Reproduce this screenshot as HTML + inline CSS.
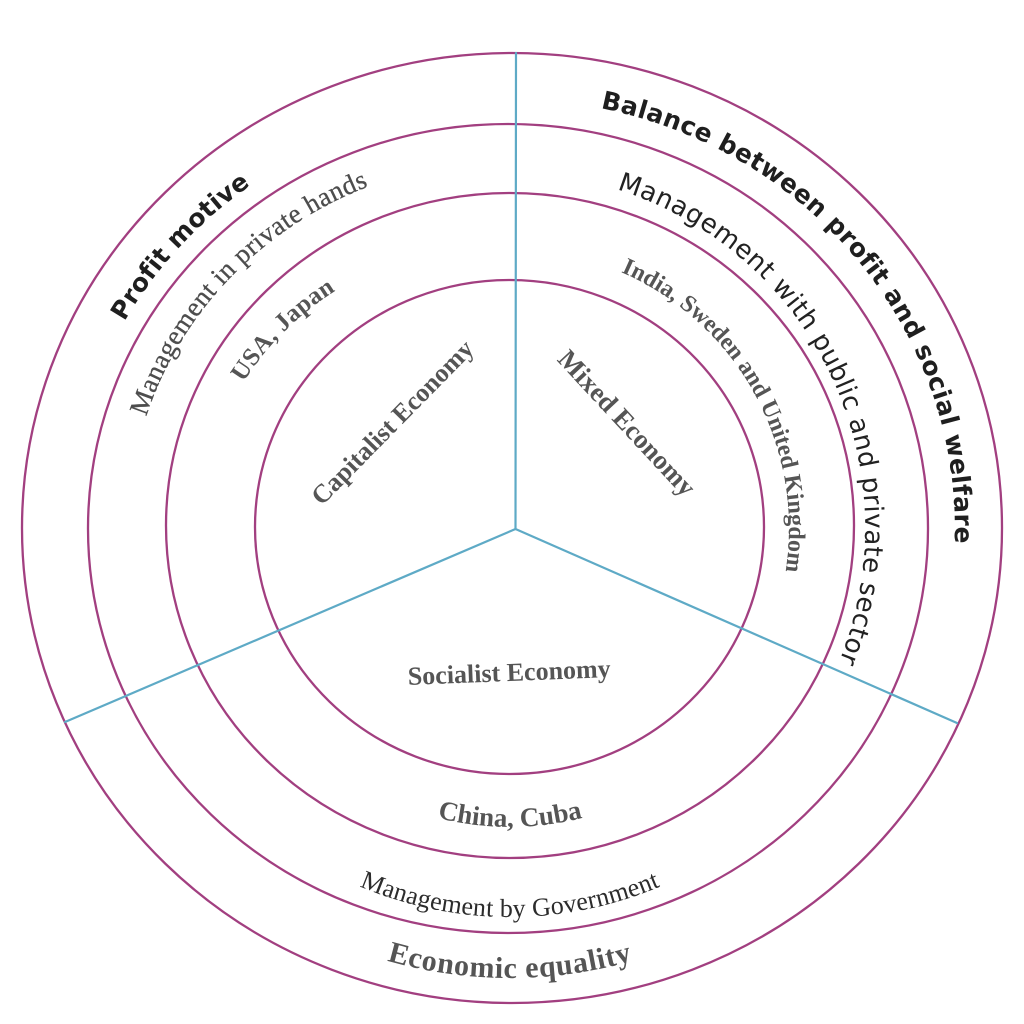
<!DOCTYPE html>
<html>
<head>
<meta charset="utf-8">
<style>
  html, body { margin: 0; padding: 0; background: #ffffff; }
  svg { display: block; }
</style>
</head>
<body>
<svg width="1024" height="1024" viewBox="0 0 1024 1024" xmlns="http://www.w3.org/2000/svg">
  <defs>
    <path id="pProfit" d="M195.4,824.5 A441,423 0 0 1 766.1,183.6" fill="none"/>
    <path id="pBalance" d="M270.9,166.2 A445,429 0 0 1 810.6,844.3" fill="none"/>
    <path id="pMgmtPub" d="M387.4,194.8 A355,355 0 0 1 688.6,834.8" fill="none"/>
    <path id="pIndia" d="M397.4,272.7 A279,279 0 0 1 665.2,759.8" fill="none"/>
    <path id="pMgmtPriv" d="M230.2,778.5 A382,368 0 0 1 740.4,234.5" fill="none"/>
    <path id="pUSA" d="M287.3,727 A309,287 0 0 1 692.1,296.1" fill="none"/>
    <path id="pChina" d="M216,533 A294,294 0 0 0 804,533" fill="none"/>
    <path id="pMgmtGov" d="M126,533 A384,384 0 0 0 894,533" fill="none"/>
    <path id="pEquality" d="M65,533 A445,445 0 0 0 955,533" fill="none"/>
  </defs>

  <!-- rings -->
  <g fill="none" stroke="#a23f80" stroke-width="2.3">
    <ellipse cx="512" cy="528" rx="490" ry="475"/>
    <ellipse cx="508" cy="528.5" rx="420" ry="404.5"/>
    <ellipse cx="510" cy="525.5" rx="344" ry="332.5"/>
    <ellipse cx="509.5" cy="527" rx="254.5" ry="247"/>
  </g>

  <!-- divider lines -->
  <g stroke="#5eaac6" stroke-width="2.2" fill="none" stroke-linecap="round">
    <line x1="516" y1="53" x2="515.5" y2="529"/>
    <line x1="515.5" y1="529" x2="65" y2="722"/>
    <line x1="515.5" y1="529" x2="957" y2="723"/>
  </g>

  <!-- outer band texts -->
  <text font-family="'DejaVu Sans', 'Liberation Sans', sans-serif" font-weight="bold" font-size="25" fill="#1f1f1f" letter-spacing="0.2">
    <textPath href="#pProfit" startOffset="50%" text-anchor="middle">Profit motive</textPath>
  </text>
  <text font-family="'DejaVu Sans', 'Liberation Sans', sans-serif" font-weight="bold" font-size="25" fill="#1f1f1f" letter-spacing="0.4">
    <textPath href="#pBalance" startOffset="50%" text-anchor="middle">Balance between profit and social welfare</textPath>
  </text>

  <!-- ring 2-3 band texts -->
  <text font-family="'DejaVu Sans', 'Liberation Sans', sans-serif" font-size="26" fill="#222" letter-spacing="0.45">
    <textPath href="#pMgmtPub" startOffset="50%" text-anchor="middle">Management with public and private sector</textPath>
  </text>
  <text font-family="'Liberation Serif', serif" font-size="27" fill="#4d4d4d" letter-spacing="0.4" stroke="#4d4d4d" stroke-width="0.3">
    <textPath href="#pMgmtPriv" startOffset="50%" text-anchor="middle">Management in private hands</textPath>
  </text>

  <!-- ring 3-4 band texts -->
  <text font-family="'Liberation Serif', serif" font-weight="bold" font-size="24" fill="#555">
    <textPath href="#pIndia" startOffset="50%" text-anchor="middle">India, Sweden and United Kingdom</textPath>
  </text>
  <text font-family="'Liberation Serif', serif" font-weight="bold" font-size="25" fill="#555" letter-spacing="0.4">
    <textPath href="#pUSA" startOffset="50%" text-anchor="middle">USA, Japan</textPath>
  </text>

  <!-- bottom texts -->
  <text font-family="'Liberation Serif', serif" font-weight="bold" font-size="27" fill="#555">
    <textPath href="#pChina" startOffset="50%" text-anchor="middle">China, Cuba</textPath>
  </text>
  <text font-family="'Liberation Serif', serif" font-size="26" fill="#2c2c2c" letter-spacing="0.2">
    <textPath href="#pMgmtGov" startOffset="50%" text-anchor="middle">Management by Government</textPath>
  </text>
  <text font-family="'Liberation Serif', serif" font-weight="bold" font-size="30" fill="#555" letter-spacing="0.7">
    <textPath href="#pEquality" startOffset="50%" text-anchor="middle">Economic equality</textPath>
  </text>

  <!-- inner texts -->
  <text transform="translate(392,422) rotate(-45.5)" text-anchor="middle" dy="9" font-family="'Liberation Serif', serif" font-weight="bold" font-size="26" fill="#555">Capitalist Economy</text>
  <text transform="translate(627,423) rotate(47.1)" text-anchor="middle" dy="9" font-family="'Liberation Serif', serif" font-weight="bold" font-size="27" fill="#555">Mixed Economy</text>
  <text transform="translate(509.5,681) rotate(-2.2)" text-anchor="middle" font-family="'Liberation Serif', serif" font-weight="bold" font-size="26" fill="#555">Socialist Economy</text>
</svg>
</body>
</html>
